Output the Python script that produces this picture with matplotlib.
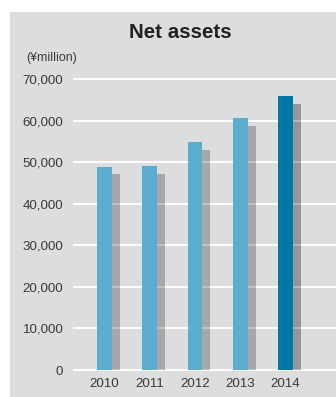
import numpy as np
import matplotlib.pyplot as plt
from matplotlib.patches import Rectangle

years = ["2010", "2011", "2012", "2013", "2014"]
net_assets = [48800, 49050, 54850, 60600, 65900]
shadow = [47150, 47150, 52900, 58750, 64000]
yticks = [0, 10000, 20000, 30000, 40000, 50000, 60000, 70000]

plt.rcParams["font.family"] = ["Liberation Sans", "DejaVu Sans"]

W, H = 336, 397
fig = plt.figure(figsize=(W / 100, H / 100), dpi=100)
fig.patches.append(Rectangle((10 / W, 0), 1, (H - 12) / H, transform=fig.transFigure,
                             facecolor="#dcdddf", edgecolor="none", zorder=-10))

ax = fig.add_axes([73 / W, (H - 375) / H, (W - 73) / W, 301 / H])
ax.set_facecolor("none")

x = np.arange(len(years))
w = 0.331
off = 8 / 45.25
blue = ["#5badcf"] * 4 + ["#0077a3"]
grey = ["#a6a7aa"] * 4 + ["#95969a"]

ax.bar(x + off, shadow, width=w, color=grey, zorder=2)
for y in yticks:
    ax.axhline(y, color="white", lw=1.4, zorder=1)
    ax.axhline(y, color="white", lw=1.4, alpha=0.3, zorder=2.5)
ax.bar(x, net_assets, width=w, color=blue, zorder=3)

ax.set_xlim(-0.696, 5.116)
ax.set_ylim(-1200, 71200)
ax.set_yticks(yticks)
ax.set_yticklabels([f"{v:,}" for v in yticks])
ax.set_xticks(x)
ax.set_xticklabels(years)
ax.tick_params(length=0, labelsize=9.6, colors="#3a3a3a")
ax.tick_params(axis="y", pad=7)
ax.tick_params(axis="x", pad=2)
for s in ax.spines.values():
    s.set_visible(False)

fig.text(180.5 / W, 1 - 32 / H, "Net assets", ha="center", va="center",
         fontsize=14.8, fontweight="bold", color="#222222")
fig.text(26 / W, 1 - 58 / H, "(\u00a5million)", ha="left", va="center",
         fontsize=8.9, color="#3a3a3a")

fig.savefig("out.png", dpi=100)
